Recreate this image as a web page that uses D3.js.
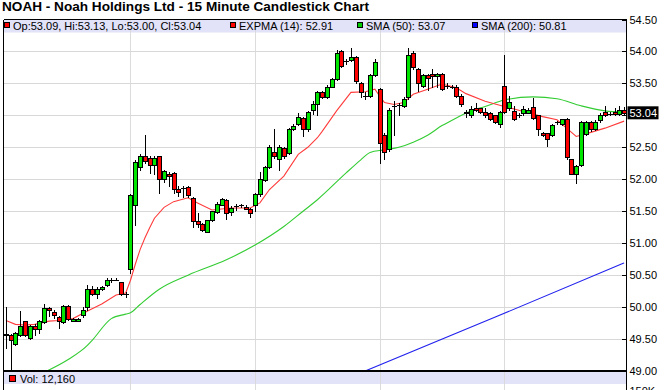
<!DOCTYPE html>
<html>
<head>
<meta charset="utf-8">
<script src="https://cdn.jsdelivr.net/npm/d3@7"></script>
<style>
  body { margin: 0; background: #fff; }
  svg { display: block; font-family: "Liberation Sans", Arial, sans-serif; }
</style>
</head>
<body>
<script>
// DATA
// =============================================================================

const opens = [
  49.58, 49.56, 49.43, 49.57, 49.78, 49.51, 49.71, 49.65, 49.76, 49.99,
  49.93, 49.85, 49.76, 50.01, 49.79, 49.79, 49.87, 50.00, 50.28, 50.21,
  50.28, 50.34, 50.42, 50.43, 50.39, 50.20, 50.59, 51.59, 52.19, 52.37,
  52.34, 52.23, 52.36, 52.01, 52.08, 52.10, 51.85, 51.86, 51.88, 51.71,
  51.34, 51.30, 51.18, 51.36, 51.49, 51.60, 51.67, 51.49, 51.58, 51.59,
  51.57, 51.54, 51.60, 51.77, 51.99, 52.19, 52.43, 52.32, 52.49, 52.41,
  52.79, 52.87, 52.96, 52.78, 53.08, 53.17, 53.36, 53.29, 53.45, 53.57,
  54.00, 53.85, 53.87, 53.91, 53.51, 53.30, 53.30, 53.63, 53.41, 52.70,
  52.47, 53.15, 53.16, 53.15, 53.28, 53.98, 53.72, 53.46, 53.63, 53.65,
  53.61, 53.65, 53.46, 53.45, 53.45, 53.31, 53.03, 53.01, 53.11, 53.11,
  53.06, 53.04, 53.00, 52.86, 53.46, 53.11, 53.07, 53.00, 53.03, 53.04,
  53.13, 53.00, 52.72, 52.72, 52.70, 52.89, 52.86, 52.94, 52.31, 52.09,
  52.23, 52.71, 52.89, 52.79, 52.92, 53.05, 53.02, 53.05, 53.02, 53.09
];
const highs = [
  50.00, 49.58, 49.61, 49.94, 49.79, 49.72, 49.73, 49.80, 50.05, 50.00,
  49.96, 49.86, 50.04, 50.04, 49.83, 49.83, 50.00, 50.34, 50.33, 50.31,
  50.33, 50.46, 50.46, 50.46, 50.40, 50.23, 51.77, 52.30, 52.39, 52.70,
  52.36, 52.36, 52.37, 52.15, 52.12, 52.12, 51.90, 51.89, 51.89, 51.72,
  51.47, 51.31, 51.37, 51.51, 51.65, 51.71, 51.69, 51.58, 51.62, 51.62,
  51.59, 51.55, 51.79, 52.11, 52.21, 52.53, 52.79, 52.53, 52.51, 52.81,
  52.86, 53.04, 52.98, 53.07, 53.22, 53.38, 53.38, 53.47, 53.59, 54.03,
  54.02, 53.88, 54.06, 53.93, 53.52, 53.37, 53.65, 53.88, 53.43, 52.72,
  53.11, 53.22, 53.20, 53.28, 54.05, 54.00, 53.74, 53.65, 53.65, 53.73,
  53.66, 53.67, 53.51, 53.47, 53.47, 53.33, 53.09, 53.14, 53.19, 53.12,
  53.11, 53.05, 53.01, 53.07, 53.95, 53.30, 53.14, 53.03, 53.15, 53.11,
  53.27, 53.01, 52.74, 52.73, 52.87, 52.91, 52.95, 52.96, 52.32, 52.22,
  52.91, 52.91, 52.91, 52.92, 53.03, 53.14, 53.05, 53.12, 53.14, 53.13
];
const lows = [
  49.36, 48.90, 49.41, 49.55, 49.54, 49.50, 49.57, 49.59, 49.75, 49.86,
  49.83, 49.67, 49.75, 49.80, 49.78, 49.78, 49.85, 49.96, 50.19, 50.14,
  50.27, 50.33, 50.40, 50.42, 50.19, 50.16, 50.54, 51.29, 52.15, 52.25,
  52.10, 52.08, 51.78, 51.95, 51.90, 51.79, 51.74, 51.73, 51.73, 51.26,
  51.26, 51.19, 51.17, 51.35, 51.48, 51.59, 51.38, 51.44, 51.52, 51.57,
  51.53, 51.41, 51.50, 51.74, 51.98, 52.18, 52.33, 52.14, 52.34, 52.39,
  52.77, 52.85, 52.68, 52.76, 53.02, 53.01, 53.27, 53.27, 53.44, 53.55,
  53.75, 53.80, 53.85, 53.51, 53.28, 53.25, 53.28, 53.61, 52.26, 52.31,
  52.45, 52.70, 53.00, 53.13, 53.26, 53.73, 53.38, 53.44, 53.40, 53.45,
  53.45, 53.40, 53.43, 53.43, 53.29, 53.15, 52.98, 52.97, 53.07, 53.04,
  52.97, 52.93, 52.88, 52.82, 53.04, 53.09, 52.92, 52.98, 53.00, 53.03,
  52.94, 52.69, 52.68, 52.52, 52.67, 52.87, 52.85, 52.32, 52.08, 51.94,
  52.20, 52.69, 52.76, 52.77, 52.90, 52.99, 53.00, 53.00, 53.00, 53.00
];
const closes = [
  49.57, 49.48, 49.59, 49.70, 49.56, 49.70, 49.65, 49.78, 49.99, 49.96,
  49.88, 49.78, 50.01, 49.82, 49.82, 49.82, 49.96, 50.29, 50.20, 50.28,
  50.32, 50.42, 50.42, 50.43, 50.20, 50.20, 51.75, 52.27, 52.37, 52.28,
  52.23, 52.34, 52.00, 52.13, 52.05, 51.85, 51.80, 51.86, 51.75, 51.34,
  51.30, 51.21, 51.36, 51.50, 51.62, 51.69, 51.47, 51.55, 51.58, 51.59,
  51.54, 51.47, 51.77, 52.01, 52.19, 52.51, 52.36, 52.51, 52.36, 52.79,
  52.84, 52.98, 52.78, 53.06, 53.17, 53.36, 53.29, 53.45, 53.57, 53.97,
  53.77, 53.85, 53.91, 53.53, 53.37, 53.30, 53.63, 53.83, 52.57, 52.43,
  53.09, 53.15, 53.16, 53.26, 53.94, 53.75, 53.50, 53.63, 53.58, 53.61,
  53.64, 53.42, 53.46, 53.45, 53.31, 53.17, 53.06, 53.10, 53.08, 53.06,
  53.01, 52.95, 52.90, 53.05, 53.05, 53.21, 52.95, 53.00, 53.10, 53.09,
  52.96, 52.79, 52.70, 52.63, 52.85, 52.89, 52.94, 52.35, 52.09, 52.21,
  52.89, 52.89, 52.78, 52.89, 53.01, 53.01, 53.02, 53.02, 53.08, 53.04
];

// indicator lines: [bar index, price]
const ema14 = [
  [0, 49.79], [2, 49.73], [4, 49.72], [6, 49.73], [9, 49.78], [11, 49.79],
  [14, 49.82], [16, 49.90], [20, 50.05], [23, 50.19], [25, 50.22], [26, 50.42],
  [27, 50.67], [28, 50.90], [29, 51.08], [30, 51.24], [31, 51.39], [33, 51.56],
  [35, 51.65], [38, 51.71], [40, 51.63], [43, 51.52], [47, 51.55], [51, 51.55],
  [53, 51.63], [55, 51.84], [58, 52.05], [61, 52.39], [63, 52.50], [65, 52.65],
  [66, 52.75], [69, 53.07], [72, 53.36], [75, 53.37], [77, 53.41], [78, 53.30],
  [79, 53.20], [81, 53.17], [83, 53.20], [85, 53.33], [88, 53.41], [91, 53.49],
  [94, 53.43], [96, 53.34], [100, 53.22], [104, 53.14], [108, 53.06], [112, 52.98],
  [115, 52.93], [117, 52.80], [119, 52.67], [121, 52.71], [125, 52.80], [129, 52.91]
];
const sma50 = [
  [8, 48.98], [13, 49.18], [17, 49.40], [18, 49.48], [22, 49.82], [25, 49.89],
  [26, 49.91], [28, 50.04], [32, 50.28], [38, 50.50], [46, 50.74], [52, 50.97],
  [58, 51.26], [62, 51.50], [65, 51.68], [71, 52.10], [74, 52.30], [76, 52.42],
  [79, 52.46], [82, 52.50], [85, 52.58], [88, 52.69], [91, 52.84], [94, 52.96],
  [97, 53.07], [100, 53.14], [104, 53.24], [110, 53.29], [115, 53.26], [120, 53.15],
  [125, 53.07], [129, 53.05]
];
const sma200 = [[74, 48.97], [102, 49.84], [129, 50.69]];

const dayStarts = [26, 52, 78, 104];
const priceTicks = [49, 49.5, 50, 50.5, 51, 51.5, 52, 52.5, 53, 53.5, 54, 54.5];
const lastPrice = 53.04;

const titleText = "NOAH - Noah Holdings Ltd - 15 Minute Candlestick Chart";
const legendLabels = ["Op:53.09, Hi:53.13, Lo:53.00, Cl:53.04", "EXPMA (14): 52.91", "SMA (50): 53.07", "SMA (200): 50.81"];
const legendColors = ["#ff0000", "#ff0000", "#00cc00", "#0000ff"];
const volumeLabel = "Vol: 12,160";

// CONFIG
// =============================================================================

const width = 664;
const height = 390;
const plot = { left: 3.5, right: 626.5, top: 19.5, bottom: 371 };
const bandColor = "#e2e2f8";
const gridColor = "#d8d8d8";

// SCALES
// =============================================================================

const xScale = d3.scaleBand()
  .domain(d3.range(opens.length))
  .range([plot.left, plot.right])
  .padding(0);

const xc = i => Math.round(xScale(i) + xScale.bandwidth() / 2);

const yScale = d3.scaleLinear()
  .domain([49, 54.5])
  .range([plot.bottom, plot.top]);

const py = v => Math.round(yScale(v));

// SVG
// =============================================================================

const svg = d3.select("body").append("svg")
  .attr("width", width)
  .attr("height", height);

svg.append("defs").append("clipPath").attr("id", "plotclip")
  .append("rect")
  .attr("x", plot.left).attr("y", plot.top)
  .attr("width", plot.right - plot.left)
  .attr("height", plot.bottom - plot.top);

// title
svg.append("text")
  .attr("x", 2).attr("y", 11)
  .attr("font-size", 13.6).attr("font-weight", "bold")
  .text(titleText);

// legend bands
svg.append("rect")
  .attr("x", plot.left).attr("y", 20)
  .attr("width", plot.right - plot.left).attr("height", 12.5)
  .attr("fill", bandColor);

svg.append("rect")
  .attr("x", plot.left).attr("y", 372)
  .attr("width", plot.right - plot.left).attr("height", 12)
  .attr("fill", bandColor);

// GRID
// =============================================================================

svg.append("g")
  .selectAll("line")
  .data(priceTicks.filter(t => t > 49 && t < 54.5))
  .join("line")
  .attr("x1", plot.left).attr("x2", plot.right)
  .attr("y1", d => py(d) + 0.5).attr("y2", d => py(d) + 0.5)
  .attr("stroke", gridColor);

svg.append("g")
  .selectAll("line")
  .data(dayStarts)
  .join("line")
  .attr("x1", d => xc(d) + 0.5).attr("x2", d => xc(d) + 0.5)
  .attr("y1", plot.top).attr("y2", height)
  .attr("stroke", gridColor)
  .attr("stroke-opacity", 0.9);

// INDICATOR LINES
// =============================================================================

const lineGen = d3.line()
  .x(d => xScale(d[0]) + xScale.bandwidth() / 2)
  .y(d => yScale(d[1]));

const lines = svg.append("g").attr("clip-path", "url(#plotclip)");

lines.append("path")
  .attr("d", lineGen.curve(d3.curveMonotoneX)(sma200))
  .attr("fill", "none").attr("stroke", "#2020ee").attr("stroke-width", 1.1);

lines.append("path")
  .attr("d", lineGen.curve(d3.curveMonotoneX)(sma50))
  .attr("fill", "none").attr("stroke", "#33cc33").attr("stroke-width", 1.1);

lines.append("path")
  .attr("d", lineGen.curve(d3.curveLinear)(ema14))
  .attr("fill", "none").attr("stroke", "#ff3b3b").attr("stroke-width", 1.1);

// CANDLES
// =============================================================================

const bars = d3.range(opens.length).map(i => ({
  i: i, o: opens[i], h: highs[i], l: lows[i], c: closes[i]
}));

const candles = svg.append("g")
  .attr("clip-path", "url(#plotclip)")
  .attr("shape-rendering", "crispEdges")
  .selectAll("g")
  .data(bars)
  .join("g");

candles.append("line")
  .attr("x1", d => xc(d.i) + 0.5).attr("x2", d => xc(d.i) + 0.5)
  .attr("y1", d => py(d.h)).attr("y2", d => py(d.l) + 1)
  .attr("stroke", "#000");

candles.filter(d => py(d.o) !== py(d.c))
  .append("rect")
  .attr("x", d => xc(d.i) - 1.5)
  .attr("width", 4)
  .attr("y", d => py(Math.max(d.o, d.c)) + 0.5)
  .attr("height", d => Math.abs(py(d.o) - py(d.c)))
  .attr("fill", d => d.c >= d.o ? "#00e600" : "#ff0000")
  .attr("stroke", "#000");

candles.filter(d => py(d.o) === py(d.c))
  .append("line")
  .attr("x1", d => xc(d.i) - 2).attr("x2", d => xc(d.i) + 3)
  .attr("y1", d => py(d.c) + 0.5).attr("y2", d => py(d.c) + 0.5)
  .attr("stroke", "#000");

// FRAME & AXIS
// =============================================================================

const frame = svg.append("g").attr("shape-rendering", "crispEdges");

frame.append("line")
  .attr("x1", plot.left).attr("x2", plot.left)
  .attr("y1", plot.top).attr("y2", height)
  .attr("stroke", "#000");

frame.append("line")
  .attr("x1", plot.right).attr("x2", plot.right)
  .attr("y1", plot.top).attr("y2", height)
  .attr("stroke", "#000");

frame.append("line")
  .attr("x1", plot.left).attr("x2", plot.right)
  .attr("y1", plot.top).attr("y2", plot.top)
  .attr("stroke", "#000");

frame.append("line")
  .attr("x1", plot.left).attr("x2", plot.right + 0.5)
  .attr("y1", 371).attr("y2", 371)
  .attr("stroke", "#000").attr("stroke-width", 2);

const yAxis = svg.append("g")
  .attr("transform", `translate(${plot.right},0)`)
  .call(d3.axisRight(yScale)
    .tickValues(priceTicks)
    .tickSize(-5)
    .tickPadding(3)
    .tickFormat(d3.format(".2f")));

yAxis.select(".domain").remove();
yAxis.selectAll(".tick line").attr("shape-rendering", "crispEdges");
yAxis.selectAll("text")
  .attr("font-family", "'Liberation Sans', Arial, sans-serif")
  .attr("font-size", 11)
  .attr("fill", "#000")
  .style("display", d => Math.abs(d - lastPrice) < 0.1 ? "none" : null);

// volume scale label, only its top shows above the bottom edge
svg.append("text")
  .attr("x", plot.right + 3).attr("y", 395)
  .attr("font-size", 11)
  .text("150K");

// last price marker
const lp = svg.append("g").attr("transform", `translate(${plot.right + 1},${yScale(lastPrice)})`);
lp.append("rect")
  .attr("x", 0).attr("y", -6.5)
  .attr("width", 31).attr("height", 13)
  .attr("fill", "#000");
lp.append("text")
  .attr("x", 2).attr("y", 4)
  .attr("font-size", 11)
  .attr("fill", "#fff")
  .text(d3.format(".2f")(lastPrice));

// LEGEND
// =============================================================================

const legendX = [4, 230, 357, 472];

const legend = svg.append("g").selectAll("g")
  .data(legendLabels)
  .join("g")
  .attr("transform", (d, i) => `translate(${legendX[i]},0)`);

legend.append("rect")
  .attr("x", 0.5).attr("y", 22.5)
  .attr("width", 5).attr("height", 5)
  .attr("fill", (d, i) => legendColors[i])
  .attr("stroke", "#000")
  .attr("shape-rendering", "crispEdges");

legend.append("text")
  .attr("x", 9).attr("y", 30)
  .attr("font-size", 11)
  .text(d => d);

const volLegend = svg.append("g");
volLegend.append("rect")
  .attr("x", 9.5).attr("y", 375.5)
  .attr("width", 6).attr("height", 6)
  .attr("fill", "#ff0000").attr("stroke", "#000")
  .attr("shape-rendering", "crispEdges");
volLegend.append("text")
  .attr("x", 20).attr("y", 383)
  .attr("font-size", 11)
  .text(volumeLabel);
</script>
</body>
</html>
